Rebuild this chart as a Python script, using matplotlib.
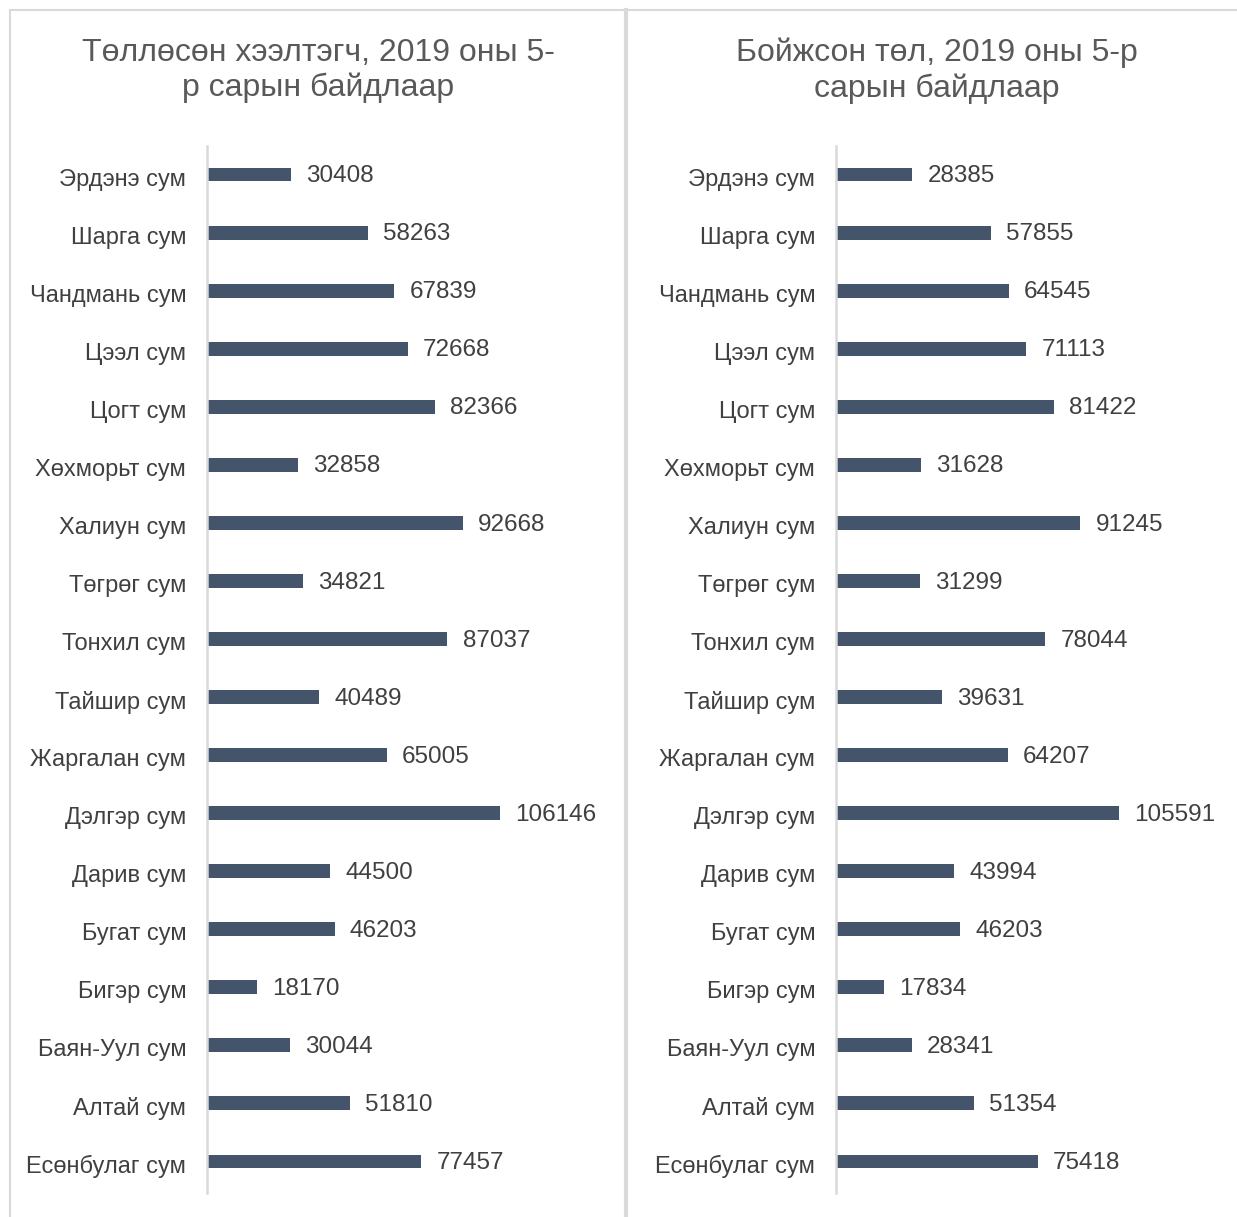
import matplotlib
matplotlib.use("Agg")
import matplotlib.pyplot as plt
from matplotlib.lines import Line2D
from matplotlib.transforms import ScaledTranslation

plt.rcParams['font.family'] = ['Liberation Sans', 'DejaVu Sans']

categories = ["Эрдэнэ сум", "Шарга сум", "Чандмань сум", "Цээл сум", "Цогт сум",
              "Хөхморьт сум", "Халиун сум", "Төгрөг сум", "Тонхил сум", "Тайшир сум",
              "Жаргалан сум", "Дэлгэр сум", "Дарив сум", "Бугат сум", "Бигэр сум",
              "Баян-Уул сум", "Алтай сум", "Есөнбулаг сум"]
left_values = [30408, 58263, 67839, 72668, 82366, 32858, 92668, 34821, 87037, 40489,
               65005, 106146, 44500, 46203, 18170, 30044, 51810, 77457]
right_values = [28385, 57855, 64545, 71113, 81422, 31628, 91245, 31299, 78044, 39631,
                64207, 105591, 43994, 46203, 17834, 28341, 51354, 75418]
left_title = "Төллөсөн хээлтэгч, 2019 оны 5-\nр сарын байдлаар"
right_title = "Бойжсон төл, 2019 оны 5-р\nсарын байдлаар"

W, H = 1237, 1217
fig = plt.figure(figsize=(W / 100, H / 100), dpi=100)

BAR = "#44546A"
TXT = "#404040"
GRID = "#D9D9D9"

def fx(px):
    return px / W

def fy(py):
    return 1 - py / H

# panel borders
fig.add_artist(Line2D([fx(10), fx(10)], [fy(10), 0], color=GRID, lw=1.5))
fig.add_artist(Line2D([fx(10), 1], [fy(10), fy(10)], color=GRID, lw=1.5))
fig.add_artist(Line2D([fx(625.5), fx(625.5)], [fy(10), 0], color=GRID, lw=3))

def panel(x0, x1, xmax, values, title, tcx):
    top, bot = 145.5, 1190.5
    ax = fig.add_axes([fx(x0), fy(bot), fx(x1 - x0), (bot - top) / H])
    y = list(range(len(categories)))
    ax.barh(y, values, height=0.24, color=BAR)
    ax.set_ylim(len(categories) - 0.5, -0.5)
    ax.set_xlim(0, xmax)
    ax.set_yticks(y)
    ax.set_yticklabels(categories, fontsize=17, color=TXT)
    ax.tick_params(axis='y', length=0, pad=15)
    shift = ScaledTranslation(0, -2.5 / 100, fig.dpi_scale_trans)
    for lbl in ax.get_yticklabels():
        lbl.set_transform(lbl.get_transform() + shift)
    ax.set_xticks([])
    for s in ['top', 'right', 'bottom']:
        ax.spines[s].set_visible(False)
    ax.spines['left'].set_color(GRID)
    ax.spines['left'].set_linewidth(1.8)
    ax.spines['left'].set_bounds(len(categories) - 0.45, -0.5)
    for yi, v in zip(y, values):
        ax.annotate(str(v), (v, yi), xytext=(11, -1.2), textcoords='offset points',
                    ha='left', va='center', fontsize=17.5, color=TXT)
    fig.text(fx(tcx), fy(70.5), title, ha='center', va='center', fontsize=23,
             color='#595959', linespacing=1.22)
    return ax

panel(207, 600, (600 - 207) / 0.002763, left_values, left_title, 318)
panel(836, 1230, (1230 - 836) / 0.002678, right_values, right_title, 937)

fig.savefig("out.png", dpi=100, facecolor='white')
